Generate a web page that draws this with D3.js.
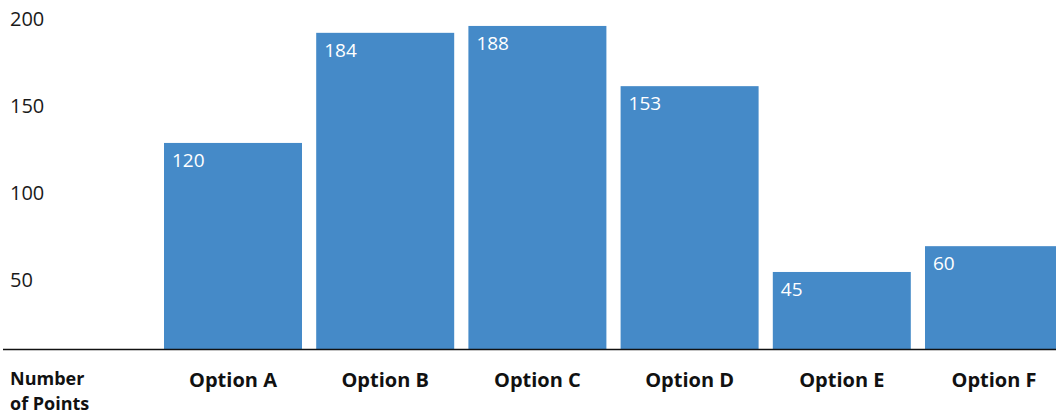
<!DOCTYPE html>
<html>
<head>
<meta charset="utf-8">
<script src="https://cdn.jsdelivr.net/npm/d3@7"></script>
<style>
  html, body { margin: 0; padding: 0; background: #fff; }
  svg { display: block; }
  text { font-family: "Open Sans", "Lato", sans-serif; }
</style>
</head>
<body>
<svg id="chart" width="1056" height="418"></svg>
<script>
const categories = ["Option A", "Option B", "Option C", "Option D", "Option E", "Option F"];
const values = [120, 184, 188, 153, 45, 60];
const yTicks = [50, 100, 150, 200];
const axisTitle = ["Number", "of Points"];

const svg = d3.select("#chart");
const W = 1056, H = 418;

const x = d3.scaleBand()
  .domain(categories)
  .range([164, 1063])
  .paddingInner(0.0933)
  .paddingOuter(0);

const y = d3.scaleLinear()
  .domain([0, 200])
  .range([349.4, 5.3]);

// bars
svg.append("g").selectAll("rect")
  .data(values)
  .join("rect")
  .attr("x", (d, i) => x(categories[i]))
  .attr("width", x.bandwidth())
  .attr("y", d => y(d))
  .attr("height", d => y(0) - y(d))
  .attr("fill", "#458AC8");

// value labels
svg.append("g").selectAll("text")
  .data(values)
  .join("text")
  .attr("x", (d, i) => x(categories[i]) + 8)
  .attr("y", d => y(d) + 24)
  .attr("fill", "#ffffff")
  .attr("font-size", 19)
  .text(d => d);

// y tick labels
svg.append("g").selectAll("text")
  .data(yTicks)
  .join("text")
  .attr("x", 10)
  .attr("y", d => y(d) + 21 + (200 - d) * 0.02)
  .attr("fill", "#1a1a1a")
  .attr("font-size", 20)
  .text(d => d);

// baseline
svg.append("line")
  .attr("x1", 3).attr("x2", W)
  .attr("y1", y(0)).attr("y2", y(0))
  .attr("stroke", "#111")
  .attr("stroke-width", 1.5);

// category labels
svg.append("g").selectAll("text")
  .data(categories)
  .join("text")
  .attr("x", d => x(d) + x.bandwidth() / 2)
  .attr("y", 387)
  .attr("text-anchor", "middle")
  .attr("font-weight", "bold")
  .attr("font-size", 20)
  .attr("fill", "#111")
  .text(d => d);

// axis title
svg.append("g").selectAll("text")
  .data(axisTitle)
  .join("text")
  .attr("x", 10)
  .attr("y", (d, i) => 385 + i * 25)
  .attr("font-weight", "bold")
  .attr("font-size", 18)
  .attr("fill", "#111")
  .text(d => d);
</script>
</body>
</html>
